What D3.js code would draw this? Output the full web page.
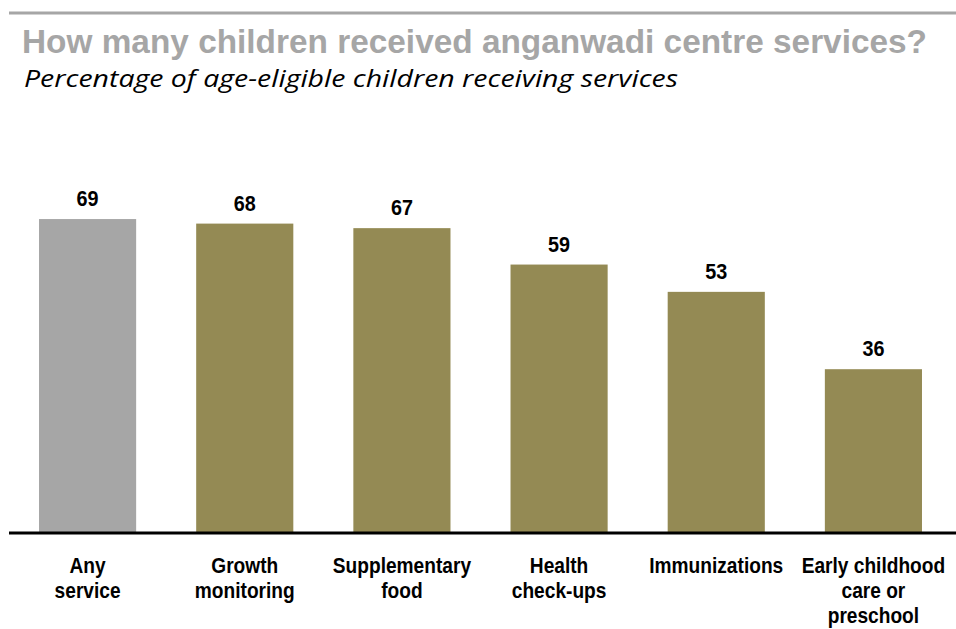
<!DOCTYPE html>
<html>
<head>
<meta charset="utf-8">
<script src="https://cdn.jsdelivr.net/npm/d3@7"></script>
<style>
    body { margin: 0; background: #fff; }
    svg { display: block; }
</style>
</head>
<body>
<svg id="chart" width="956" height="629"></svg>
<script>
// data
var categories = [
    ['Any', 'service'],
    ['Growth', 'monitoring'],
    ['Supplementary', 'food'],
    ['Health', 'check-ups'],
    ['Immunizations'],
    ['Early childhood', 'care or', 'preschool']
];
var values = [69, 68, 67, 59, 53, 36];
var barColors = ['#a6a6a6', '#948a54', '#948a54', '#948a54', '#948a54', '#948a54'];

var width = 956,
    height = 629;
var baseline = 533;
var font = '"Liberation Sans", Arial, sans-serif';

var svg = d3.select('svg#chart');

svg.append('line')
    .attr('x1', 9).attr('x2', width)
    .attr('y1', 13).attr('y2', 13)
    .attr('stroke', '#a6a6a6')
    .attr('stroke-width', 3);

svg.append('text')
    .attr('x', 22)
    .attr('y', 53)
    .attr('font-family', font)
    .attr('font-weight', 'bold')
    .attr('font-size', 33)
    .attr('fill', '#a6a6a6')
    .attr('textLength', 905)
    .attr('lengthAdjust', 'spacingAndGlyphs')
    .text('How many children received anganwadi centre services?');

svg.append('text')
    .attr('x', 24)
    .attr('y', 87)
    .attr('font-family', '"Open Sans", sans-serif')
    .attr('font-style', 'italic')
    .attr('font-size', 24)
    .attr('fill', '#000')
    .attr('textLength', 654)
    .attr('lengthAdjust', 'spacingAndGlyphs')
    .text('Percentage of age-eligible children receiving services');

var idx = d3.range(values.length);

var x = d3.scaleBand()
    .domain(idx)
    .range([9, 952])
    .paddingInner(0.382)
    .paddingOuter(0.191);

var y = d3.scaleLinear()
    .domain([0, 100])
    .range([baseline, baseline - 455]);

function cx(i) {
    return x(i) + x.bandwidth() / 2;
}

var bars = svg.append('g');

bars.selectAll('rect')
    .data(idx)
    .enter()
    .append('rect')
    .attr('x', function(i) { return x(i); })
    .attr('y', function(i) { return y(values[i]); })
    .attr('width', x.bandwidth())
    .attr('height', function(i) { return y(0) - y(values[i]); })
    .attr('fill', function(i) { return barColors[i]; });

// the labels in the reference are a bit narrow, so squeeze them horizontally
bars.selectAll('text.value')
    .data(idx)
    .enter()
    .append('text')
    .classed('value', true)
    .attr('transform', function(i) {
        return 'translate(' + cx(i) + ',' + (y(values[i]) - 13) + ') scale(0.9,1)';
    })
    .attr('text-anchor', 'middle')
    .attr('font-family', font)
    .attr('font-weight', 'bold')
    .attr('font-size', 22)
    .attr('fill', '#000')
    .text(function(i) { return values[i]; });

// baseline axis, no ticks
var xAxis = d3.axisBottom(x).tickSize(0).tickFormat('');
var gX = svg.append('g')
    .attr('transform', 'translate(0,' + baseline + ')')
    .call(xAxis);
gX.select('.domain')
    .attr('d', 'M9,0H' + width)
    .attr('stroke', '#000')
    .attr('stroke-width', 3);

var labels = svg.append('g');

labels.selectAll('text')
    .data(idx)
    .enter()
    .append('text')
    .attr('transform', function(i) {
        return 'translate(' + cx(i) + ',573) scale(0.87,1)';
    })
    .attr('text-anchor', 'middle')
    .attr('font-family', font)
    .attr('font-weight', 'bold')
    .attr('font-size', 22)
    .attr('fill', '#000')
    .each(function(i) {
        var t = d3.select(this);
        categories[i].forEach(function(line, k) {
            t.append('tspan')
                .attr('x', 0)
                .attr('y', k * 25)
                .text(line);
        });
    });
</script>
</body>
</html>
